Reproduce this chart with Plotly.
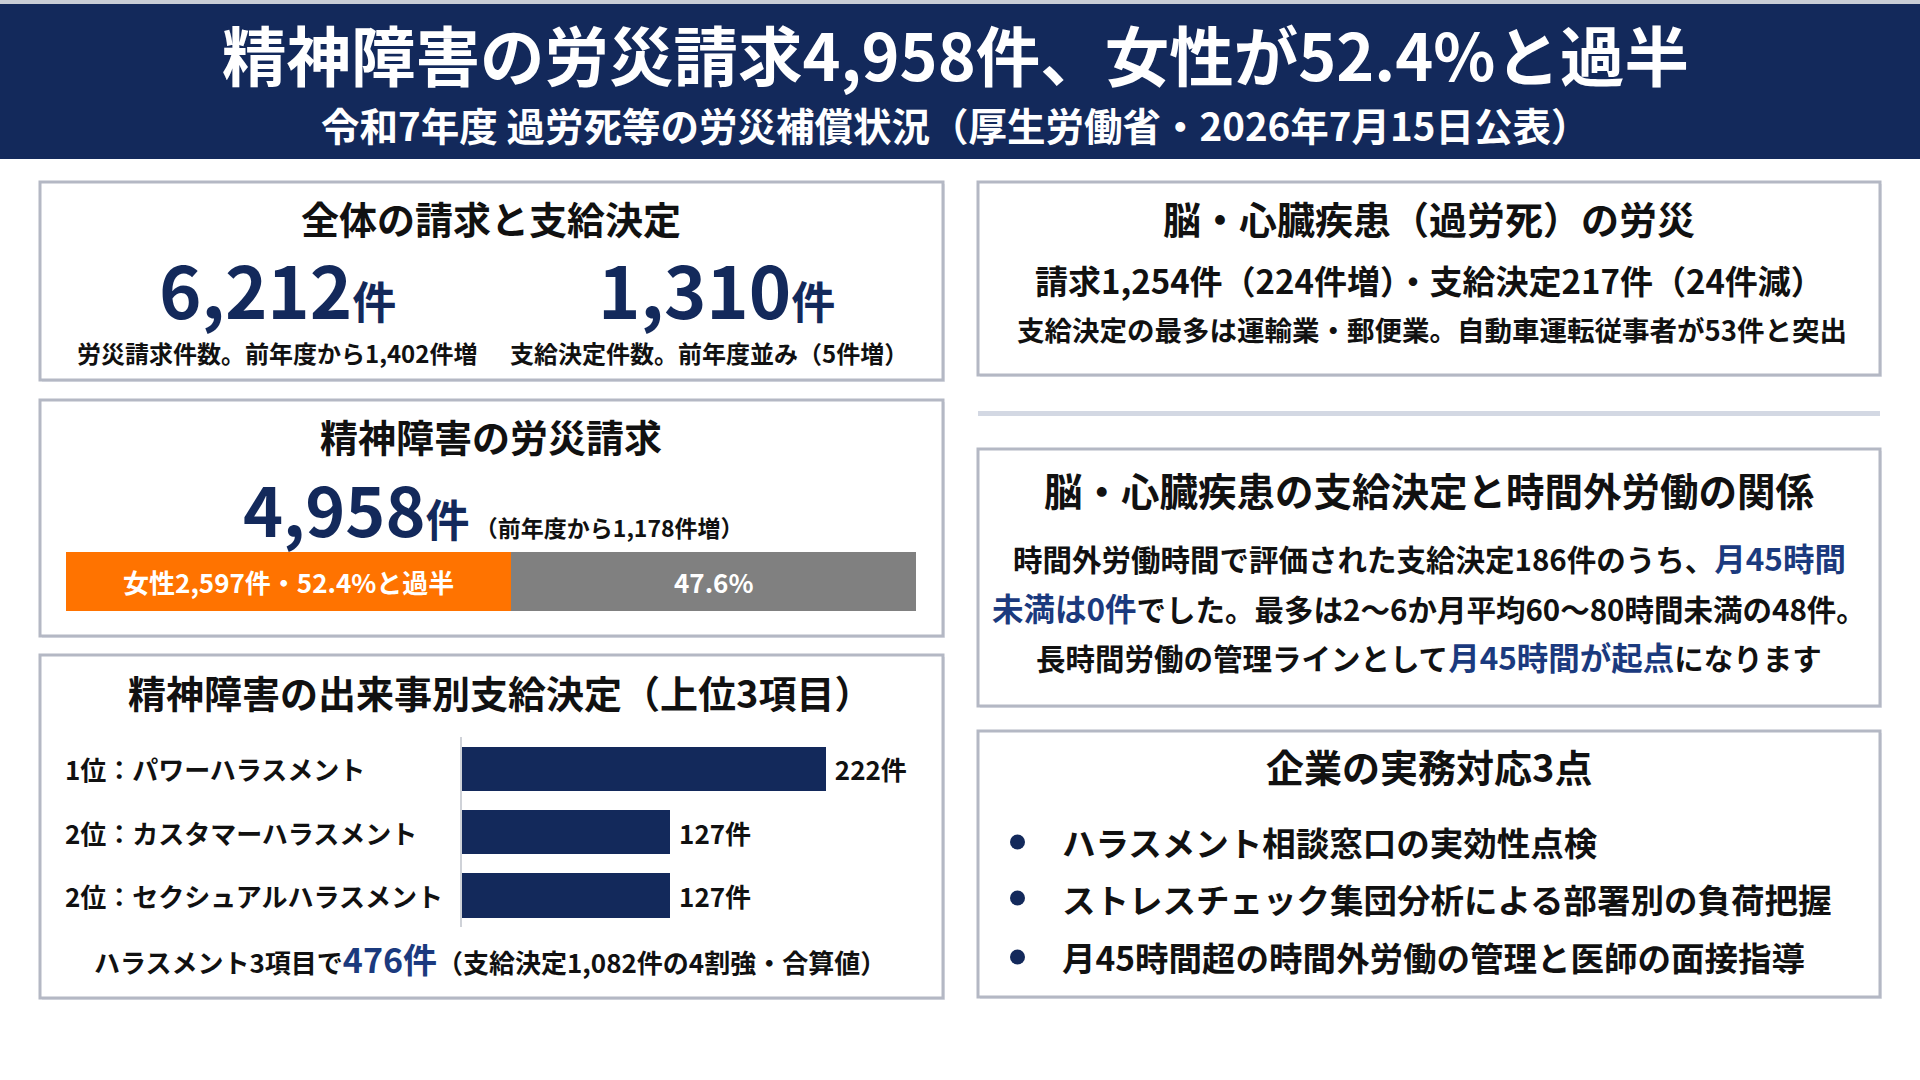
import plotly.graph_objects as go

W, H = 1920, 1080
FONT = "Noto Sans CJK JP"
NAVY = "#13295b"
INK = "#111111"
HIL = "#1b3a7e"
BORDER = "#b4b8c4"

# ---------------- data ----------------
header_title = "精神障害の労災請求4,958件、女性が52.4%と過半"
header_sub = "令和7年度 過労死等の労災補償状況（厚生労働省・2026年7月15日公表）"

panel1_title = "全体の請求と支給決定"
total_claims = "6,212"
total_claims_note = "労災請求件数。前年度から1,402件増"
total_awards = "1,310"
total_awards_note = "支給決定件数。前年度並み（5件増）"

panel2_title = "精神障害の労災請求"
mental_claims = "4,958"
mental_claims_note = "（前年度から1,178件増）"
gender_labels = ["女性2,597件・52.4%と過半", "47.6%"]
gender_share = [52.4, 47.6]
gender_colors = ["#ff7300", "#808080"]

panel3_title = "精神障害の出来事別支給決定（上位3項目）"
event_categories = ["1位：パワーハラスメント", "2位：カスタマーハラスメント", "2位：セクシュアルハラスメント"]
event_values = [222, 127, 127]
event_total = "476件"
event_note_pre = "ハラスメント3項目で"
event_note_post = "（支給決定1,082件の4割強・合算値）"

right1_title = "脳・心臓疾患（過労死）の労災"
right1_line1 = "請求1,254件（224件増）・支給決定217件（24件減）"
right1_line2 = "支給決定の最多は運輸業・郵便業。自動車運転従事者が53件と突出"

right2_title = "脳・心臓疾患の支給決定と時間外労働の関係"
right2_lines = [
    [("時間外労働時間で評価された支給決定186件のうち、", False), ("月45時間", True)],
    [("未満は0件", True), ("でした。最多は2〜6か月平均60〜80時間未満の48件。", False)],
    [("長時間労働の管理ラインとして", False), ("月45時間が起点", True), ("になります", False)],
]

right3_title = "企業の実務対応3点"
action_items = [
    "ハラスメント相談窓口の実効性点検",
    "ストレスチェック集団分析による部署別の負荷把握",
    "月45時間超の時間外労働の管理と医師の面接指導",
]


# ---------------- helpers ----------------
def px(x):
    return x / W


def py(y):
    return 1 - y / H


def sp(text, size=None, color=None):
    st = []
    if size:
        st.append(f"font-size:{size}px")
    if color:
        st.append(f"color:{color}")
    return f'<span style="{";".join(st)}">{text}</span>'


annotations = []


def label(x, y, text, size, color=INK, xanchor="center", weight=700):
    annotations.append(dict(
        x=px(x), y=py(y), xref="paper", yref="paper", text=text, showarrow=False,
        xanchor=xanchor, yanchor="middle", borderpad=0,
        font=dict(family=FONT, size=size, color=color, weight=weight),
    ))


shapes = []


def rect(x0, y0, x1, y1, fill, line_color=None, lw=0):
    shapes.append(dict(
        type="rect", xref="paper", yref="paper",
        x0=px(x0), x1=px(x1), y0=py(y1), y1=py(y0),
        fillcolor=fill, line=dict(color=line_color or fill, width=lw), layer="below",
    ))


# ---------------- background / panels ----------------
rect(0, 0, W, 4, "#c9cdd6")
rect(0, 4, W, 159, NAVY)
panels = [
    (40, 182, 943, 380),
    (40, 400, 943, 636),
    (40, 655, 943, 998),
    (978, 182, 1880, 375),
    (978, 449, 1880, 706),
    (978, 731, 1880, 997),
]
for (x0, y0, x1, y1) in panels:
    rect(x0 + 2, y0 + 2, x1 + 2, y1 + 2, "#e6e8ee")
    rect(x0, y0, x1, y1, "#ffffff", BORDER, 3)
rect(978, 411, 1880, 416, "#d3d8e3")

# bullets
for yy in (842, 898, 957):
    shapes.append(dict(type="circle", xref="paper", yref="paper",
                       x0=px(1010), x1=px(1025), y0=py(yy + 7.5), y1=py(yy - 7.5),
                       fillcolor=NAVY, line=dict(color=NAVY, width=0)))

# ---------------- texts ----------------
label(955, 53, header_title, 64.5, "#ffffff")
label(955, 124, header_sub, 38.5, "#ffffff")

label(491, 217, panel1_title, 38)
label(277, 287, sp(total_claims, 72) + sp("件", 44), 44, NAVY)
label(716, 287, sp(total_awards, 72) + sp("件", 44), 44, NAVY)
label(277, 352, total_claims_note, 24)
label(709, 352, total_awards_note, 24)

label(491, 435, panel2_title, 38)
label(494, 507, sp(mental_claims, 68, NAVY) + sp("件", 44, NAVY) + sp(" " + mental_claims_note, 23, INK), 44, NAVY)

label(500, 691, panel3_title, 38)
label(490, 958, event_note_pre + sp(event_total, 34, HIL) + event_note_post, 26)

label(1429, 217, right1_title, 38)
label(1429, 280, right1_line1, 33)
label(1432, 329, right1_line2, 27.5)

label(1429, 489, right2_title, 38.5)
for yy, parts in zip((557, 607, 656), right2_lines):
    txt = "".join(sp(t, 31.5, HIL) if hi else t for t, hi in parts)
    label(1429, yy, txt, 29.5)

label(1429, 765, right3_title, 38)
for yy, item in zip((841, 898, 956), action_items):
    label(1061, yy, item, 33.5, xanchor="left")

# category labels tied to the bar axis
for cat in event_categories:
    annotations.append(dict(
        x=px(64), y=cat, xref="paper", yref="y3", text=cat, showarrow=False,
        xanchor="left", yanchor="middle", borderpad=0,
        font=dict(family=FONT, size=26, color=INK, weight=700),
    ))

# ---------------- traces ----------------
fig = go.Figure()
for lab, val, col in zip(gender_labels, gender_share, gender_colors):
    fig.add_trace(go.Bar(
        x=[val], y=["gender"], orientation="h", xaxis="x2", yaxis="y2",
        marker=dict(color=col, line=dict(width=0)), width=1.0,
        text=[lab], textposition="inside", insidetextanchor="middle",
        textfont=dict(family=FONT, size=29, color="#ffffff", weight=700),
        hoverinfo="skip",
    ))

fig.add_trace(go.Bar(
    x=event_values, y=event_categories, orientation="h", xaxis="x3", yaxis="y3",
    marker=dict(color=NAVY, line=dict(width=0)), width=0.7,
    text=[f"\u00a0{v}件" for v in event_values], textposition="outside", cliponaxis=False,
    textfont=dict(family=FONT, size=26, color=INK, weight=700),
    hoverinfo="skip",
))

fig.update_layout(
    width=W, height=H, margin=dict(l=0, r=0, t=0, b=0),
    paper_bgcolor="#ffffff", plot_bgcolor="rgba(0,0,0,0)",
    showlegend=False, barmode="stack",
    shapes=shapes, annotations=annotations,
    xaxis=dict(visible=False), yaxis=dict(visible=False),
    xaxis2=dict(domain=[px(66), px(916)], range=[0, 100], visible=False, anchor="y2"),
    yaxis2=dict(domain=[py(611), py(552)], range=[-0.5, 0.5], visible=False, anchor="x2"),
    xaxis3=dict(domain=[px(462), px(862)], range=[0, 244], visible=False, anchor="y3"),
    yaxis3=dict(domain=[py(927), py(737)], autorange="reversed", anchor="x3",
                showticklabels=False, showgrid=False, zeroline=False,
                showline=True, linecolor="#cfd2d8", linewidth=1.5, ticks=""),
    uniformtext=dict(mode="show", minsize=10),
)

fig.write_html(
    "out.html",
    config={"displayModeBar": False},
    post_script="document.body.style.margin='0';document.body.style.overflow='hidden';",
)
